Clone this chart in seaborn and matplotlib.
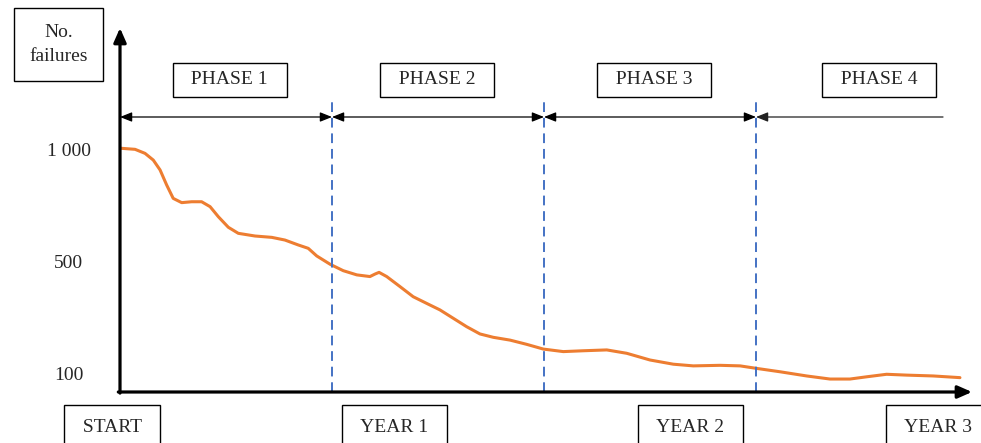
import numpy as np
import pandas as pd
import matplotlib
matplotlib.use("Agg")
import matplotlib.pyplot as plt
import seaborn as sns

# curve (x: the dashed phase lines sit at 1, 2, 3)
t = [0.0, 0.071, 0.118, 0.157, 0.189, 0.220, 0.251, 0.291, 0.338, 0.385,
     0.425, 0.464, 0.511, 0.558, 0.637, 0.716, 0.778, 0.841, 0.888, 0.928,
     0.991, 1.053, 1.117, 1.179, 1.203, 1.222, 1.258, 1.321, 1.383, 1.447,
     1.509, 1.572, 1.635, 1.698, 1.761, 1.840, 1.918, 1.997, 2.091, 2.185,
     2.296, 2.390, 2.500, 2.610, 2.704, 2.830, 2.925, 3.003, 3.113, 3.239,
     3.349, 3.443, 3.522, 3.616, 3.711, 3.836, 3.962]
failures = [1008, 1003, 985, 955, 911, 844, 784, 765, 769, 769,
            747, 702, 655, 628, 616, 610, 598, 576, 561, 527,
            492, 469, 454, 448, 457, 463, 448, 412, 376, 352,
            329, 299, 269, 243, 231, 221, 206, 189, 180, 183,
            186, 174, 150, 135, 129, 131, 129, 120, 108, 93,
            82, 82, 90, 99, 96, 93, 87]

phase_bounds = [1, 2, 3]
phase_names = ["PHASE 1", "PHASE 2", "PHASE 3", "PHASE 4"]
phase_x = [0.517, 1.495, 2.519, 3.58]
y_ticks = [100, 500, 1000]
y_ticklabels = ["100", "500", "1 000"]
x_labels = ["START", "YEAR 1", "YEAR 2", "YEAR 3"]
x_label_pos = [-0.038, 1.297, 2.693, 3.86]

df = pd.DataFrame({"t": t, "failures": failures})

sns.set_style("white")
plt.rcParams["font.family"] = ["Liberation Serif", "DejaVu Serif"]

ORANGE = "#ED7D31"
BLUE = "#4472C4"
FS = 14


# the y axis puts 100, 500 and 1 000 at equal spacing
def fwd(v):
    return np.interp(v, [-300, 100, 500, 1000, 1500, 2000], [-1, 0, 1, 2, 3, 4])


def inv(p):
    return np.interp(p, [-1, 0, 1, 2, 3, 4], [-300, 100, 500, 1000, 1500, 2000])


fig = plt.figure(figsize=(9.81, 4.43), dpi=100)
ax = fig.add_axes([120 / 981, 1 - 392 / 443, 852 / 981, 364 / 443])
ax.set_yscale("function", functions=(fwd, inv))

sns.lineplot(data=df, x="t", y="failures", sort=False, color=ORANGE, lw=2.2, ax=ax)

ax.set_xlim(0, 852 / 212)
ax.set_ylim(inv(-18 / 112), inv(346 / 112))

for s in ax.spines.values():
    s.set_visible(False)
ax.set_xticks([])
ax.set_yticks(y_ticks)
ax.set_yticklabels(y_ticklabels, fontsize=FS, ha="center")
ax.tick_params(axis="y", length=0, pad=37)
ax.set_xlabel("")
ax.set_ylabel("")

# axis arrows
axis_arrow = dict(arrowstyle="-|>,head_length=0.5,head_width=0.22", lw=2.3,
                  color="black", mutation_scale=17, shrinkA=0, shrinkB=0)
ax.annotate("", xy=(0, 1), xytext=(0, -0.003), xycoords="axes fraction",
            arrowprops=axis_arrow)
ax.annotate("", xy=(1, 0), xytext=(-0.002, 0), xycoords="axes fraction",
            arrowprops=axis_arrow)

# phase boundaries
ax.vlines(phase_bounds, inv(-18 / 112), inv(274 / 112), colors=BLUE,
          linestyles=(0, (5, 3)), lw=1.4)

# phase arrows
y_arr = inv(257 / 112)
edges = [0] + phase_bounds
for i in range(3):
    ax.annotate("", xy=(edges[i + 1], y_arr), xytext=(edges[i], y_arr),
                arrowprops=dict(arrowstyle="<|-|>,head_length=0.55,head_width=0.22",
                                lw=0.9, color="black", mutation_scale=13,
                                shrinkA=0, shrinkB=0),
                annotation_clip=False)
ax.annotate("", xy=(823 / 212, y_arr), xytext=(3, y_arr),
            arrowprops=dict(arrowstyle="<|-,head_length=0.55,head_width=0.22",
                            lw=0.9, color="#222222", mutation_scale=13,
                            shrinkA=0, shrinkB=0),
            annotation_clip=False)

y_phase = inv(294 / 112)
for name, x in zip(phase_names, phase_x):
    ax.text(x, y_phase, "  " + name + "  ", ha="center", va="center", fontsize=FS,
            bbox=dict(boxstyle="square,pad=0.45", fc="white", ec="black", lw=1.0),
            clip_on=False)

y_bottom = inv(-53 / 112)
for name, x in zip(x_labels, x_label_pos):
    ax.text(x, y_bottom, " " + name + " ", ha="center", va="center", fontsize=FS,
            bbox=dict(boxstyle="square,pad=0.72", fc="white", ec="black", lw=1.0),
            clip_on=False)

ax.text(-61.5 / 212, inv(329.5 / 112), "No.\nfailures", ha="center", va="center",
        fontsize=FS, linespacing=1.55,
        bbox=dict(boxstyle="square,pad=0.8", fc="white", ec="black", lw=1.0),
        clip_on=False)

fig.savefig("out.png", dpi=100)
